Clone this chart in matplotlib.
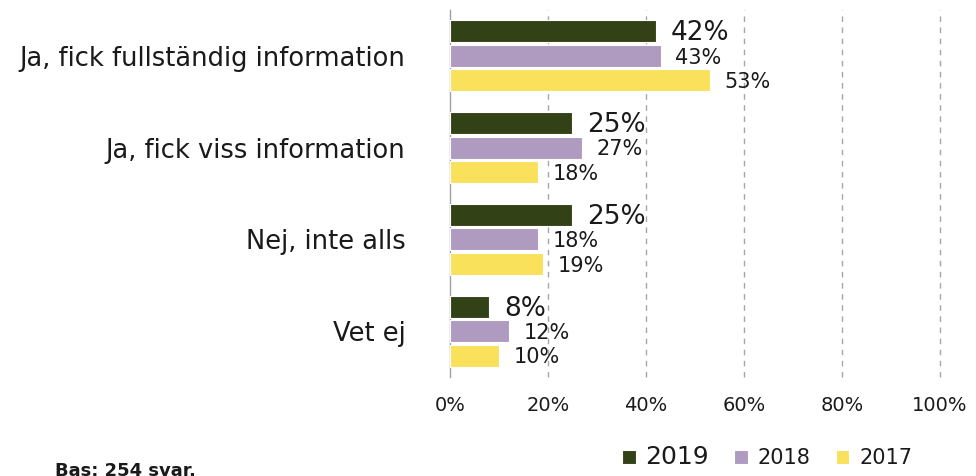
import numpy as np
import matplotlib.pyplot as plt

categories = ['Ja, fick fullständig information', 'Ja, fick viss information',
              'Nej, inte alls', 'Vet ej']
years = ['2019', '2018', '2017']
v2019 = [42, 25, 25, 8]
v2018 = [43, 27, 18, 12]
v2017 = [53, 18, 19, 10]
colors = ['#334117', '#af9ac0', '#fae15c']

plt.rcParams['font.family'] = ['DejaVu Sans']
fig = plt.figure(figsize=(9.76, 4.76), dpi=100)
ax = fig.add_axes([0.461, 0.208, 0.502, 0.771])

y = np.arange(len(categories))
h = 0.24
step = 0.266
series = [v2019, v2018, v2017]
label_sizes = [19, 15, 15]
bars = []
for i, vals in enumerate(series):
    pos = y + (i - 1) * step
    b = ax.barh(pos, vals, height=h, color=colors[i], edgecolor='white', linewidth=0.8,
                label=years[i], zorder=3)
    bars.append(b)
    for p, v in zip(pos, vals):
        ax.text(v + 3, p + 0.02, f'{v}%', va='center', ha='left',
                fontsize=label_sizes[i], color='#1a1a1a')

ax.set_xlim(0, 100)
ax.set_ylim(3.5, -0.5)
ax.set_yticks(y)
ax.set_yticklabels(categories, fontsize=18.5, color='#1a1a1a')
ax.set_xticks(np.arange(0, 101, 20))
ax.set_xticklabels([f'{t}%' for t in range(0, 101, 20)], fontsize=14, color='#1a1a1a')
ax.tick_params(axis='both', length=0)
ax.tick_params(axis='y', pad=32)
ax.tick_params(axis='x', pad=14)
for s in ['top', 'right', 'bottom']:
    ax.spines[s].set_visible(False)
ax.spines['left'].set_color('#a0a0a0')
ax.spines['left'].set_linewidth(1)
for t in range(20, 101, 20):
    ax.axvline(t, color='#a6a6a6', linestyle=(0, (4, 4)), linewidth=1, zorder=1, clip_on=False)

leg = fig.legend(handles=bars, labels=years, loc='center', bbox_to_anchor=(0.786, 0.04),
                 ncol=3, frameon=False, handlelength=0.65, handleheight=0.65,
                 handletextpad=0.48, columnspacing=1.2, fontsize=15)
for txt, fs in zip(leg.get_texts(), [18, 15, 15]):
    txt.set_fontsize(fs)
    txt.set_color('#1a1a1a')

fig.text(0.056, -0.008, 'Bas: 254 svar.', fontsize=13, fontweight='bold', color='#1a1a1a',
         va='bottom')

fig.savefig('out.png', dpi=100)
